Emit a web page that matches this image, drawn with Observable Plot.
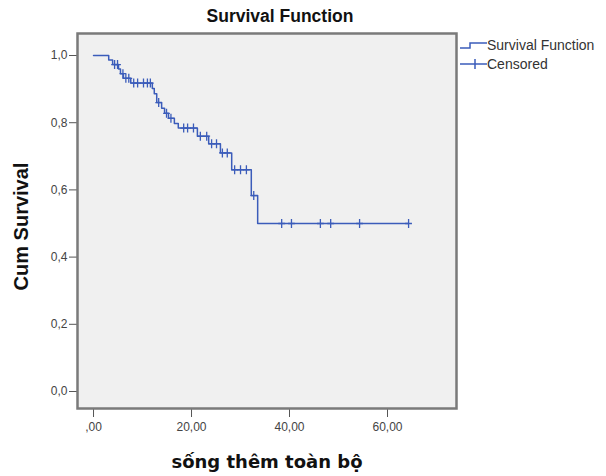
<!DOCTYPE html>
<html>
<head>
<meta charset="utf-8">
<script src="https://cdn.jsdelivr.net/npm/d3@7"></script>
<script src="https://cdn.jsdelivr.net/npm/@observablehq/plot@0.6"></script>
<style>
  html, body { margin: 0; padding: 0; background: #ffffff; }
  #wrap { position: relative; width: 606px; height: 476px; overflow: hidden; background: #fff; }
  #wrap svg.plot { position: absolute; left: 0; top: 0; }
  .title { position: absolute; left: 180px; width: 200px; top: 6px; line-height: 22px; text-align: center;
           font: bold 17.5px "Liberation Sans", Arial, sans-serif; color: #111; }
  .ylab { position: absolute; left: 21px; top: 227px; width: 200px; margin-left: -100px; margin-top: -12px;
          line-height: 24px; text-align: center; transform: rotate(-90deg);
          font: bold 20px "Liberation Sans", Arial, sans-serif; color: #111; }
  .xlab { position: absolute; left: 117px; width: 300px; top: 451px; line-height: 24px; text-align: center;
          font: bold 18px "DejaVu Sans", sans-serif; color: #111; }
  #legend { position: absolute; left: 456px; top: 34px; }
</style>
</head>
<body>
<div id="wrap">
  <div class="title">Survival Function</div>
  <div class="ylab">Cum Survival</div>
  <div class="xlab">sống thêm toàn bộ</div>
</div>
<script>
// ---- data ----
const stepTimes    = [0, 3.1, 3.9, 5.1, 5.5, 6.1, 7.6, 12.0, 12.4, 12.9, 13.9, 14.5, 15.3, 16.5, 17.3, 21.2, 23.5, 25.9, 28.2, 32.2, 33.5, 64.3];
const stepSurvival = [1.0, 0.987, 0.973, 0.96, 0.946, 0.932, 0.918, 0.902, 0.886, 0.86, 0.843, 0.828, 0.813, 0.798, 0.784, 0.76, 0.737, 0.71, 0.66, 0.583, 0.50, 0.50];

const censorTimes    = [4.3, 4.9, 6.0, 6.6, 7.2, 8.2, 9.0, 10.2, 11.0, 11.6, 13.3, 14.9, 15.8, 18.4, 19.2, 20.4, 21.8, 23.1, 24.1, 25.1, 26.3, 27.3, 28.8, 30.0, 31.2, 32.7, 38.4, 40.4, 46.3, 48.4, 54.3, 64.3];
const censorSurvival = [0.973, 0.973, 0.946, 0.932, 0.932, 0.918, 0.918, 0.918, 0.918, 0.918, 0.86, 0.828, 0.813, 0.784, 0.784, 0.784, 0.76, 0.76, 0.737, 0.737, 0.71, 0.71, 0.66, 0.66, 0.66, 0.583, 0.5, 0.5, 0.5, 0.5, 0.5, 0.5];

const xTicks = [0, 20, 40, 60];
const xTickLabels = [",00", "20,00", "40,00", "60,00"];
const yTicks = [0, 0.2, 0.4, 0.6, 0.8, 1.0];
const yTickLabels = ["0,0", "0,2", "0,4", "0,6", "0,8", "1,0"];

const legendLabels = ["Survival Function", "Censored"];

// ---- build tables ----
const steps = stepTimes.map((t, i) => ({t, s: stepSurvival[i]}));
const censored = censorTimes.map((t, i) => ({t, s: censorSurvival[i]}));

const blue = "#3b5cba";

const plusSymbol = {
  draw(context, size) {
    const r = Math.sqrt(size / Math.PI);
    context.moveTo(-r * 0.75, 0); context.lineTo(r * 0.75, 0);
    context.moveTo(0, -r); context.lineTo(0, r);
  }
};

const chart = Plot.plot({
  width: 606,
  height: 476,
  marginLeft: 77,
  marginRight: 150,
  marginTop: 33,
  marginBottom: 68,
  x: {domain: [-3.27, 74.08]},
  y: {domain: [-0.0506, 1.0655]},
  style: {fontFamily: "'Liberation Sans', Arial, sans-serif", fontSize: "12px", color: "#444", background: "transparent"},
  marks: [
    Plot.frame({fill: "#f0f0f0", stroke: "none"}),
    Plot.axisY({ticks: yTicks, tickFormat: d => yTickLabels[yTicks.indexOf(d)], tickSize: 8, tickPadding: 2, label: null, stroke: "#555"}),
    Plot.axisX({ticks: xTicks, tickFormat: d => xTickLabels[xTicks.indexOf(d)], tickSize: 9, tickPadding: 5, label: null, stroke: "#555"}),
    Plot.line(steps, {x: "t", y: "s", curve: "step-after", stroke: blue, strokeWidth: 1.5}),
    Plot.dot(censored, {x: "t", y: "s", symbol: plusSymbol, r: 4.5, stroke: blue, fill: "none", strokeWidth: 1.3}),
    Plot.frame({stroke: "#7a7a7a", strokeWidth: 2.5})
  ]
});
chart.classList.add("plot");
document.getElementById("wrap").prepend(chart);

// ---- legend ----
const lg = d3.create("svg").attr("id", "legend").attr("width", 150).attr("height", 44);
lg.append("path").attr("d", "M4,14 H14 V9 H31").attr("fill", "none").attr("stroke", blue).attr("stroke-width", 1.5);
lg.append("text").attr("x", 31).attr("y", 16).text(legendLabels[0])
  .attr("font-family", "'Liberation Sans', Arial, sans-serif").attr("font-size", 14).attr("fill", "#333");
lg.append("path").attr("d", "M4,30 H31 M19,25 V35").attr("fill", "none").attr("stroke", blue).attr("stroke-width", 1.5);
lg.append("text").attr("x", 31).attr("y", 35).text(legendLabels[1])
  .attr("font-family", "'Liberation Sans', Arial, sans-serif").attr("font-size", 14).attr("fill", "#333");
document.getElementById("wrap").append(lg.node());
</script>
</body>
</html>
